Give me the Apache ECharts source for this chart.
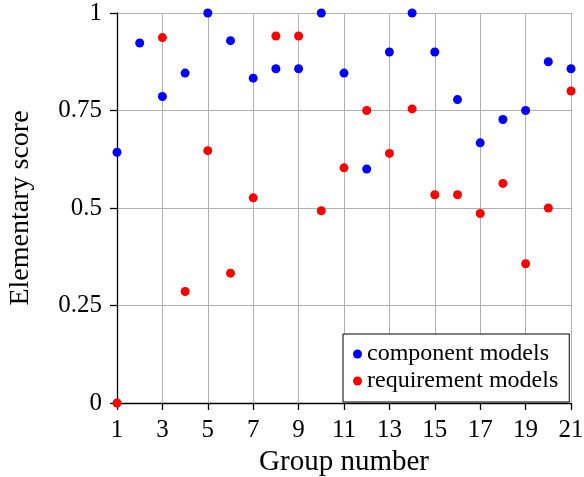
<!DOCTYPE html>
<html>
<head>
<meta charset="utf-8">
<script src="https://cdn.jsdelivr.net/npm/echarts@6/dist/echarts.min.js"></script>
<style>html,body{margin:0;padding:0;background:#fff}#c{width:584px;height:477px}</style>
</head>
<body>
<div id="c"></div>
<script>
const groups = ['1','2','3','4','5','6','7','8','9','10','11','12','13','14','15','16','17','18','19','20','21'];
const componentScores = [0.643,0.923,0.786,0.846,1.0,0.929,0.833,0.857,0.857,1.0,0.846,0.6,0.9,1.0,0.9,0.778,0.667,0.727,0.75,0.875,0.857];
const requirementScores = [0,null,0.937,0.286,0.647,0.333,0.526,0.941,0.941,0.493,0.603,0.75,0.64,0.754,0.534,0.534,0.486,0.563,0.357,0.5,0.8];
const yTicks = [0,0.25,0.5,0.75,1];

const FONT = 'Liberation Serif';
const chart = echarts.init(document.getElementById('c'));
chart.setOption({
  animation:false,
  grid:{left:117,right:13,top:13,bottom:74,containLabel:false,outerBoundsMode:'none'},
  legend:{
    orient:'vertical', left:343, top:334,
    padding:[8,11,9,10], itemGap:3,
    itemWidth:9, itemHeight:9,
    borderColor:'#000', borderWidth:1, borderRadius:0, backgroundColor:'#fff',
    textStyle:{fontFamily:FONT,fontSize:24,color:'#000'},
    data:[{name:'component models',icon:'circle'},{name:'requirement models',icon:'circle'}]
  },
  xAxis:{
    type:'category', data:groups, boundaryGap:false,
    name:'Group number', nameLocation:'middle', nameGap:45,
    nameTextStyle:{fontFamily:FONT,fontSize:29,color:'#000'},
    axisLine:{show:true,lineStyle:{color:'#000',width:1.3}},
    axisTick:{show:true,inside:false,length:7,interval:1,alignWithLabel:true,lineStyle:{color:'#000',width:1.3}},
    axisLabel:{interval:1,margin:15,fontFamily:FONT,fontSize:25,color:'#000'},
    splitLine:{show:true,interval:1,lineStyle:{color:'#b0b0b0',width:1}}
  },
  yAxis:{
    type:'value', min:0, max:1, interval:0.25,
    name:'Elementary score', nameLocation:'middle', nameGap:82,
    nameTextStyle:{fontFamily:FONT,fontSize:28,color:'#000'},
    axisLine:{show:true,lineStyle:{color:'#000',width:1.3}},
    axisTick:{show:true,inside:false,length:7,lineStyle:{color:'#000',width:1.3}},
    axisLabel:{margin:15,fontFamily:FONT,fontSize:25,color:'#000',
      formatter:v=>yTicks.includes(v)?String(v):''},
    splitLine:{show:true,lineStyle:{color:'#b0b0b0',width:1}}
  },
  series:[
    {name:'component models',type:'scatter',data:componentScores,symbol:'circle',symbolSize:9,
     itemStyle:{color:'#0000ff',opacity:1},z:5},
    {name:'requirement models',type:'scatter',data:requirementScores,symbol:'circle',symbolSize:9,
     itemStyle:{color:'#ff0000',opacity:1},z:5}
  ]
});
</script>
</body>
</html>
